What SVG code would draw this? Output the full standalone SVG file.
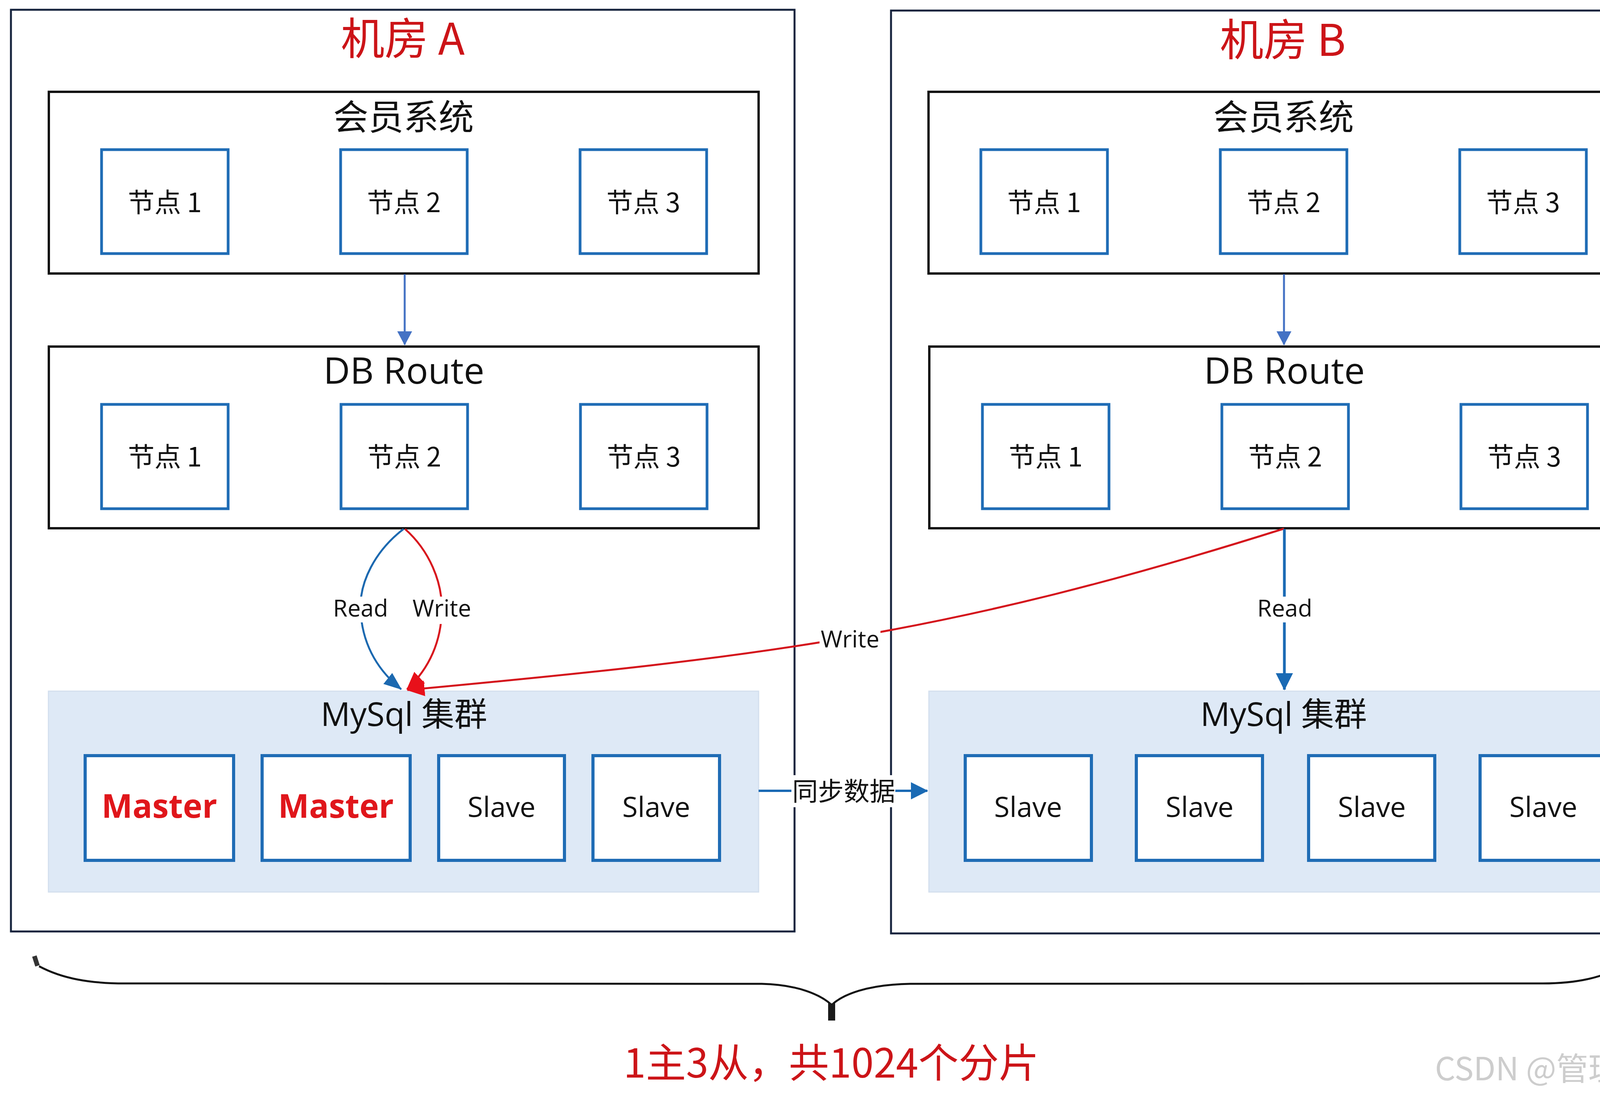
<svg xmlns="http://www.w3.org/2000/svg" width="4320" height="2800" viewBox="0 0 4320 2800">
<defs>
<style>
.room{fill:#fff;stroke:#16233d;stroke-width:5}
.sys{fill:#fff;stroke:#111;stroke-width:6}
.node{fill:#fff;stroke:#1f6cb5;stroke-width:7}
.db{fill:#fff;stroke:#1f6cb5;stroke-width:8}
.cluster{fill:#dee9f6;stroke:#d3dfee;stroke-width:3}
.t{font-family:"Open Sans","Noto Sans CJK SC",sans-serif;fill:#111;text-anchor:middle}
.cjk{font-family:"Noto Sans CJK SC","Open Sans",sans-serif;fill:#111;text-anchor:middle}
.title{font-size:112px;fill:#cc1418}
.h{font-size:90px}
.dbr{font-size:94px}
.n{font-size:68px}
.my{font-size:84px}
.master{font-size:84px;font-weight:bold;fill:#e0161b}
.slave{font-size:72px}
.lbl{font-size:60px}
.bg{fill:#fff}
</style>
<marker id="mThin" markerUnits="userSpaceOnUse" markerWidth="40" markerHeight="40" refX="34" refY="19" orient="auto"><path d="M0,0 L36,19 L0,38 z" fill="#4472c4"/></marker>
<marker id="mBlue" markerUnits="userSpaceOnUse" markerWidth="50" markerHeight="40" refX="44" refY="18" orient="auto"><path d="M0,0 L46,18 L0,36 z" fill="#1c69b0"/></marker>
<marker id="mRed" markerUnits="userSpaceOnUse" markerWidth="50" markerHeight="44" refX="44" refY="20" orient="auto"><path d="M0,0 L46,20 L0,40 z" fill="#e8101a"/></marker>
<marker id="mReadB" markerUnits="userSpaceOnUse" markerWidth="50" markerHeight="46" refX="42" refY="22" orient="auto"><path d="M0,0 L44,22 L0,44 z" fill="#1a6ab4"/></marker>
</defs>
<rect x="0" y="0" width="4320" height="2800" fill="#fff"/>

<g id="roomA">
<rect class="room" x="28" y="25" width="2006" height="2359"/>
<text class="cjk title" x="1031" y="140">机房 A</text>
</g>
<g id="roomB">
<rect class="room" x="2281" y="27" width="2007" height="2362"/>
<text class="cjk title" x="3284" y="143">机房 B</text>
</g>

<g id="memberA">
<rect class="sys" x="125" y="235" width="1817" height="465"/>
<text class="cjk h" x="1033" y="332">会员系统</text>
</g>
<g id="memberA-n1"><rect class="node" x="260" y="383" width="324" height="266"/><text class="cjk n" x="422" y="543">节点 1</text></g>
<g id="memberA-n2"><rect class="node" x="872" y="383" width="324" height="266"/><text class="cjk n" x="1034" y="543">节点 2</text></g>
<g id="memberA-n3"><rect class="node" x="1485" y="383" width="324" height="266"/><text class="cjk n" x="1647" y="543">节点 3</text></g>

<g id="dbrouteA">
<rect class="sys" x="125" y="887" width="1817" height="465"/>
<text class="t dbr" x="1034" y="982">DB Route</text>
</g>
<g id="dbrouteA-n1"><rect class="node" x="260" y="1035" width="324" height="267"/><text class="cjk n" x="422" y="1194">节点 1</text></g>
<g id="dbrouteA-n2"><rect class="node" x="873" y="1035" width="324" height="267"/><text class="cjk n" x="1035" y="1194">节点 2</text></g>
<g id="dbrouteA-n3"><rect class="node" x="1486" y="1035" width="324" height="267"/><text class="cjk n" x="1648" y="1194">节点 3</text></g>

<g id="memberB">
<rect class="sys" x="2377" y="235" width="1817" height="465"/>
<text class="cjk h" x="3286" y="332">会员系统</text>
</g>
<g id="memberB-n1"><rect class="node" x="2511" y="383" width="324" height="266"/><text class="cjk n" x="2673" y="543">节点 1</text></g>
<g id="memberB-n2"><rect class="node" x="3124" y="383" width="324" height="266"/><text class="cjk n" x="3286" y="543">节点 2</text></g>
<g id="memberB-n3"><rect class="node" x="3737" y="383" width="324" height="266"/><text class="cjk n" x="3899" y="543">节点 3</text></g>

<g id="dbrouteB">
<rect class="sys" x="2379" y="887" width="1817" height="465"/>
<text class="t dbr" x="3288" y="982">DB Route</text>
</g>
<g id="dbrouteB-n1"><rect class="node" x="2515" y="1035" width="324" height="267"/><text class="cjk n" x="2677" y="1194">节点 1</text></g>
<g id="dbrouteB-n2"><rect class="node" x="3128" y="1035" width="324" height="267"/><text class="cjk n" x="3290" y="1194">节点 2</text></g>
<g id="dbrouteB-n3"><rect class="node" x="3740" y="1035" width="324" height="267"/><text class="cjk n" x="3902" y="1194">节点 3</text></g>

<g id="mysqlA">
<rect class="cluster" x="124" y="1769" width="1818" height="514"/>
<text class="t my" x="1034" y="1858">MySql 集群</text>
</g>
<g id="mysqlA-m1"><rect class="db" x="218" y="1934" width="380" height="268"/><text class="t master" x="408" y="2093">Master</text></g>
<g id="mysqlA-m2"><rect class="db" x="671" y="1934" width="379" height="268"/><text class="t master" x="860" y="2093">Master</text></g>
<g id="mysqlA-s1"><rect class="db" x="1123" y="1934" width="322" height="268"/><text class="t slave" x="1284" y="2091">Slave</text></g>
<g id="mysqlA-s2"><rect class="db" x="1518" y="1934" width="324" height="268"/><text class="t slave" x="1680" y="2091">Slave</text></g>

<g id="mysqlB">
<rect class="cluster" x="2378" y="1769" width="1816" height="514"/>
<text class="t my" x="3286" y="1858">MySql 集群</text>
</g>
<g id="mysqlB-s1"><rect class="db" x="2471" y="1934" width="323" height="268"/><text class="t slave" x="2632" y="2091">Slave</text></g>
<g id="mysqlB-s2"><rect class="db" x="2909" y="1934" width="323" height="268"/><text class="t slave" x="3071" y="2091">Slave</text></g>
<g id="mysqlB-s3"><rect class="db" x="3350" y="1934" width="323" height="268"/><text class="t slave" x="3512" y="2091">Slave</text></g>
<g id="mysqlB-s4"><rect class="db" x="3789" y="1934" width="323" height="268"/><text class="t slave" x="3951" y="2091">Slave</text></g>

<g id="connectors" fill="none">
<line x1="1036" y1="702" x2="1036" y2="882" stroke="#4472c4" stroke-width="5" marker-end="url(#mThin)"/>
<line x1="3287" y1="702" x2="3287" y2="882" stroke="#4472c4" stroke-width="5" marker-end="url(#mThin)"/>
<path d="M1033,1354 C960,1410 920,1490 923,1560 C926,1640 960,1710 1027,1764" stroke="#1c69b0" stroke-width="5" marker-end="url(#mBlue)"/>
<path d="M1037,1354 C1100,1410 1132,1490 1131,1560 C1130,1640 1100,1710 1042,1764" stroke="#d8161e" stroke-width="5" marker-end="url(#mRed)"/>
<path d="M3287,1353 C2432,1623 1970,1680 1043,1766" stroke="#d4141c" stroke-width="5" marker-end="url(#mRed)"/>
<line x1="3288" y1="1354" x2="3288" y2="1765" stroke="#1a6ab4" stroke-width="7" marker-end="url(#mReadB)"/>
<line x1="1942" y1="2024" x2="2374" y2="2024" stroke="#1a6ab4" stroke-width="6" marker-end="url(#mReadB)"/>
<rect class="bg" x="852" y="1527" width="142" height="66"/>
<text class="t lbl" x="923" y="1578">Read</text>
<rect class="bg" x="1055" y="1527" width="153" height="70"/>
<text class="t lbl" x="1131" y="1578">Write</text>
<rect class="bg" x="3220" y="1527" width="138" height="66"/>
<text class="t lbl" x="3289" y="1578">Read</text>
<rect class="bg" x="2098" y="1605" width="156" height="63"/>
<text class="t lbl" x="2176" y="1657">Write</text>
<rect class="bg" x="2026" y="1984" width="266" height="82"/>
<text class="cjk" x="2160" y="2049" style="font-size:66px">同步数据</text>
</g>

<g id="brace">
<path d="M100,2473 C160,2505 230,2517 320,2517 L1950,2518 C2040,2520 2100,2545 2129,2572 C2158,2545 2220,2520 2330,2518 L3950,2517 C4040,2517 4110,2500 4150,2472" fill="none" stroke="#111" stroke-width="5"/>
<rect x="2120" y="2568" width="18" height="44" fill="#1a1a1a"/>
<path d="M96,2472 L88,2447" stroke="#333" stroke-width="12" fill="none"/>
<path d="M4152,2470 L4178,2446" stroke="#333" stroke-width="12" fill="none"/>
<text class="cjk" x="2128" y="2758" style="font-size:103px;fill:#cc1418">1主3从，共1024个分片</text>
</g>
<text x="4312" y="2765" style="font-family:'Noto Sans CJK SC','Open Sans',sans-serif;font-size:82px;fill:#cdcdcd;text-anchor:end">CSDN @管理大亨</text>
</svg>
